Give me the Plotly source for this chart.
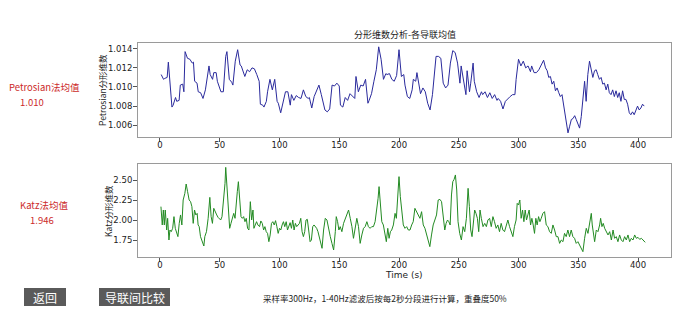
import plotly.graph_objects as go

# ---- Petrosian fractal dimension (mean over leads), time in seconds ----
petro_t = [1, 3, 4, 6, 7, 8, 10, 11, 13, 14, 16, 17, 19, 20, 21, 23, 25, 27, 28, 29,
           31, 32, 34, 36, 38, 41, 42, 44, 45, 47, 48, 51, 53, 55, 56, 58, 60, 61, 63, 65,
           67, 68, 70, 71, 73, 75, 77, 79, 81, 83, 84, 86, 87, 89, 90, 92, 94, 96, 98, 99,
           101, 103, 105, 107, 109, 110, 112, 114, 116, 118, 120, 122, 124, 125, 127, 129, 131, 133, 135, 137,
           138, 140, 142, 144, 146, 148, 150, 151, 153, 155, 157, 159, 161, 163, 164, 166, 168, 170, 172, 174,
           175, 177, 179, 181, 183, 185, 187, 189, 190, 192, 194, 196, 198, 200, 202, 204, 205, 207, 209, 211,
           212, 214, 215, 217, 218, 220, 222, 224, 226, 228, 230, 231, 233, 235, 237, 239, 241, 243, 245, 247,
           249, 251, 252, 254, 256, 257, 258, 259, 260, 262, 263, 265, 267, 269, 270, 272, 274, 276, 278, 280,
           282, 283, 285, 287, 289, 291, 293, 295, 297, 298, 300, 302, 304, 306, 308, 310, 311, 313, 315, 317,
           319, 321, 322.6, 324.0, 325.3, 326.7, 328.1, 329.5, 330.9, 332.3, 333.7, 335.0, 336.4, 337.8, 339.2,
           340.6, 341.4, 342.8, 344.2, 345.6, 347.0, 348.3, 349.7, 351.1, 352.5, 353.9, 355.3, 356.6, 358.0,
           359.4, 360.8, 362.2, 363.6, 365.0, 366.3, 367.7, 369.1, 370.5, 371.9, 373.3, 374.7, 376.0, 377.4,
           378.8, 380.2, 381.6, 383.0, 384.3, 385.7, 387.1, 388.5, 389.9, 391.3, 392.7, 394.0, 395.4, 396.8,
           398.2, 399.6, 401.0, 402.4, 403.8, 405.2]
petro_v = [1.0113, 1.0108, 1.0109, 1.0110, 1.0126, 1.0111, 1.0079, 1.0081, 1.0089, 1.0085,
           1.0086, 1.0102, 1.0103, 1.0095, 1.0137, 1.0130, 1.0129, 1.0125, 1.0126, 1.0106,
           1.0104, 1.0095, 1.0094, 1.0088, 1.0097, 1.0122, 1.0113, 1.0108, 1.0115, 1.0115,
           1.0106, 1.0095, 1.0095, 1.0132, 1.0137, 1.0108, 1.0105, 1.0102, 1.0127, 1.0139,
           1.0123, 1.0122, 1.0113, 1.0111, 1.0118, 1.0116, 1.0120, 1.0119, 1.0113, 1.0106,
           1.0082, 1.0081, 1.0079, 1.0085, 1.0095, 1.0108, 1.0097, 1.0108, 1.0085, 1.0083,
           1.0073, 1.0086, 1.0095, 1.0095, 1.0081, 1.0092, 1.0086, 1.0091, 1.0089, 1.0088,
           1.0097, 1.0090, 1.0088, 1.0089, 1.0078, 1.0090, 1.0097, 1.0102, 1.0092, 1.0082,
           1.0076, 1.0074, 1.0077, 1.0102, 1.0101, 1.0104, 1.0101, 1.0081, 1.0079, 1.0089,
           1.0086, 1.0093, 1.0090, 1.0088, 1.0111, 1.0095, 1.0102, 1.0101, 1.0108, 1.0083,
           1.0086, 1.0093, 1.0106, 1.0118, 1.0142, 1.0129, 1.0108, 1.0114, 1.0113, 1.0114,
           1.0108, 1.0106, 1.0112, 1.0139, 1.0111, 1.0113, 1.0102, 1.0090, 1.0088, 1.0097,
           1.0108, 1.0106, 1.0115, 1.0102, 1.0093, 1.0099, 1.0095, 1.0083, 1.0076, 1.0092,
           1.0120, 1.0132, 1.0132, 1.0130, 1.0104, 1.0099, 1.0102, 1.0125, 1.0138, 1.0136,
           1.0125, 1.0104, 1.0122, 1.0109, 1.0092, 1.0117, 1.0101, 1.0095, 1.0104, 1.0125,
           1.0106, 1.0095, 1.0089, 1.0095, 1.0092, 1.0095, 1.0089, 1.0094, 1.0088, 1.0092,
           1.0086, 1.0088, 1.0085, 1.0077, 1.0085, 1.0088, 1.0090, 1.0092, 1.0092, 1.0108,
           1.0129, 1.0122, 1.0127, 1.0120, 1.0122, 1.0116, 1.0122, 1.0115, 1.0115, 1.0118,
           1.0123, 1.0128, 1.0120, 1.0117, 1.0110, 1.0111, 1.0103, 1.0106, 1.0096, 1.0099,
           1.0094, 1.0090, 1.0092, 1.0082, 1.0071, 1.0060, 1.0052, 1.0059, 1.0066, 1.0067,
           1.0070, 1.0066, 1.0061, 1.0057, 1.0069, 1.0085, 1.0106, 1.0085, 1.0113, 1.0127,
           1.0117, 1.0110, 1.0117, 1.0118, 1.0113, 1.0108, 1.0110, 1.0103, 1.0104, 1.0097,
           1.0103, 1.0094, 1.0092, 1.0097, 1.0090, 1.0096, 1.0089, 1.0094, 1.0085, 1.0096,
           1.0087, 1.0087, 1.0082, 1.0073, 1.0071, 1.0074, 1.0071, 1.0075, 1.0080, 1.0076,
           1.0078, 1.0082, 1.0080]

# ---- Katz fractal dimension (mean over leads) ----
katz_t = [0.8, 1.9, 2.8, 3.6, 4.4, 5.6, 6.4, 7.5, 8.3, 9.4, 10.6, 11.7, 12.8, 13.9, 15.0, 16.1, 17.2, 18.3,
          19.4, 20.8, 21.9, 23.1, 24.4, 25.6, 26.7, 27.8, 28.9, 30.0, 31.1, 31.9, 32.8, 33.9, 35.0, 36.7,
          37.5, 38.9, 40.3, 41.7, 42.8, 43.9, 45.0, 46.4, 47.5, 48.6, 49.7, 50.8, 51.9, 53.3, 54.4, 55.0,
          56.1, 57.2, 58.3, 59.4, 60.6, 61.7, 62.8, 63.9, 64.7, 65.6, 66.7, 67.8, 68.9, 70.0, 71.1, 72.2,
          73.3, 74.4, 75.6, 76.7, 77.8, 78.6, 79.7, 80.8, 81.9, 83.3, 84.4, 85.6, 86.7, 87.8, 88.9, 90.0,
          91.1, 92.2, 93.3, 94.4, 95.6, 96.7, 97.8, 98.9, 100.0, 101.1, 102.2, 103.3, 104.4, 105.6, 106.7,
          107.8, 108.9, 110.0, 111.1, 112.2, 113.3, 114.4, 115.6, 116.7, 117.8, 118.9, 120.0, 121.1, 122.2,
          123.3, 124.4, 125.6, 126.7, 127.8, 128.9, 130.0, 131.1, 132.2, 133.3, 134.4,
          135.6, 136.9, 138.3, 139.7, 141.1, 142.5, 143.9, 145.3, 146.7, 147.5, 148.6, 149.7, 150.8, 152.2,
          153.6, 155.0, 156.4, 157.8, 159.2, 160.6, 161.9, 163.3, 164.7, 166.1, 167.5, 168.9, 170.3, 171.7,
          173.1, 174.4, 175.8, 177.2, 178.6, 180.0, 181.4, 182.5, 183.3, 184.4, 185.6, 186.9, 188.3, 189.4,
          190.6, 191.7, 192.8, 193.9, 195.3, 196.7, 197.8, 198.9, 200.0, 201.1, 202.2, 203.6, 205.0, 206.4,
          207.8, 209.2, 210.6, 211.9, 213.3, 214.7, 216.1, 217.5, 218.9, 220.3, 221.7, 223.1, 224.4, 225.8,
          227.2, 228.6, 230.0, 231.4, 232.8, 234.2, 235.6, 236.9, 238.3, 239.4, 240.6, 241.7, 242.8, 243.9,
          245.0, 246.1, 247.2, 248.3, 249.4, 250.8, 252.2, 253.6, 255.0, 256.4, 257.8, 258.9, 260.0, 261.1,
          262.2, 263.3, 264.4, 265.6, 266.7, 267.8, 268.9, 270.3, 271.7, 273.1, 274.4, 275.8, 277.2, 278.6,
          279.9, 281.3, 282.7, 284.1, 285.5, 286.9, 288.3, 289.7, 291.1, 292.5, 293.9, 295.3, 296.6, 298.0,
          298.9, 300.0, 301.1, 302.2, 303.4, 304.5, 305.6, 306.7, 307.8, 308.9, 310.1, 311.2, 312.3, 313.4,
          314.5, 315.6, 316.8, 317.9, 319.0, 320.4, 321.8, 323.2, 324.6, 326.0, 327.4, 328.8, 330.2, 331.6,
          333.0, 334.4, 335.8, 337.2, 338.5, 339.9, 341.3, 342.7, 344.1, 345.5, 346.9, 348.3, 349.7, 351.1,
          352.5, 353.9, 355.3, 356.7, 358.1, 359.5, 360.9, 361.7, 362.8, 363.7, 365.1, 366.5, 367.9, 368.7,
          369.8, 370.9, 372.1, 373.5, 374.9, 376.3, 377.7, 379.1, 380.4, 381.8, 383.2, 384.6, 386.0, 387.4,
          388.8, 390.2, 391.6, 393.0, 394.4, 395.8, 397.2, 398.6, 400.0, 401.4, 402.8, 404.2, 405.2, 406.0]
katz_v = [2.167, 1.938, 2.125, 1.938, 2.125, 1.875, 2.021, 1.750, 1.875, 1.854, 1.896, 2.042, 1.896, 1.833,
          1.792, 1.958, 2.063, 1.938, 2.250, 2.333, 2.450, 2.354, 2.250, 2.229, 2.167, 1.958, 2.125, 2.063,
          2.083, 1.938, 1.917, 1.792, 1.750, 1.675, 1.792, 1.854, 2.021, 2.283, 2.042, 1.958, 2.146, 2.083,
          2.063, 2.033, 2.021, 2.000, 2.042, 2.250, 2.458, 2.658, 2.417, 2.125, 1.896, 1.958, 2.042, 2.083,
          2.021, 2.167, 2.354, 2.479, 2.208, 2.042, 2.021, 2.042, 1.979, 2.021, 1.896, 1.875, 2.229, 2.000,
          2.125, 1.896, 1.938, 1.979, 1.938, 1.917, 1.988, 1.958, 1.875, 1.917, 1.854, 1.833, 1.729, 1.813,
          1.958, 1.979, 1.938, 1.992, 1.917, 1.833, 1.896, 1.875, 1.938, 1.979, 1.917, 1.979, 1.875, 1.938,
          1.967, 1.896, 2.000, 1.875, 1.958, 1.917, 1.938, 1.958, 2.021, 1.854, 1.792, 1.854, 2.000, 2.008,
          1.875, 1.729, 1.750, 1.917, 1.938, 1.917, 1.896, 1.854, 1.792, 1.708,
          1.646, 1.875, 2.021, 2.000, 1.875, 1.792, 1.708, 1.625, 1.854, 2.042, 1.979, 1.875, 1.917, 1.854,
          1.958, 2.021, 2.083, 2.125, 2.021, 1.917, 1.771, 1.875, 2.021, 1.917, 1.708, 1.813, 1.896, 1.917,
          1.979, 1.917, 1.896, 1.917, 1.917, 1.979, 2.125, 2.271, 2.417, 2.229, 1.979, 1.938, 1.792, 1.729,
          1.896, 1.771, 1.854, 1.875, 1.938, 2.083, 2.021, 2.271, 2.542, 2.292, 2.125, 1.938, 1.896, 1.917,
          1.875, 1.875, 1.938, 1.979, 2.146, 2.104, 2.083, 2.021, 2.104, 1.938, 1.896, 1.813, 1.729, 1.667,
          1.813, 1.938, 2.000, 2.063, 2.250, 2.258, 2.229, 2.021, 1.875, 1.958, 2.000, 1.979, 1.938, 2.313,
          2.479, 2.508, 2.563, 2.375, 1.979, 1.833, 1.750, 1.917, 1.854, 2.021, 2.396, 2.167, 1.875, 1.792,
          2.000, 2.125, 2.083, 2.021, 1.854, 2.125, 2.021, 1.917, 1.958, 1.917, 2.000, 2.021, 1.917, 2.042,
          1.979, 1.896, 1.938, 1.854, 1.958, 1.875, 1.854, 1.938, 2.000, 1.917, 1.854, 1.792, 1.917, 2.000,
          2.208, 2.188, 2.250, 2.021, 2.125, 1.979, 2.125, 2.000, 2.063, 2.125, 1.938, 2.021, 1.938, 1.833,
          2.021, 1.938, 2.042, 1.979, 2.021, 2.083, 2.104, 1.938, 1.917, 1.854, 1.833, 1.938, 1.875, 1.792,
          1.792, 1.708, 1.750, 1.729, 1.833, 1.792, 1.875, 1.792, 1.875, 1.792, 1.771, 1.708, 1.729, 1.688,
          1.646, 1.604, 1.771, 1.896, 1.833, 1.979, 2.083, 1.938, 1.833, 1.729, 1.875, 1.854, 1.938, 2.021,
          1.917, 1.958, 1.896, 1.854, 1.813, 1.854, 1.750, 1.875, 1.771, 1.792, 1.729, 1.813, 1.750, 1.729,
          1.792, 1.750, 1.813, 1.729, 1.771, 1.750, 1.813, 1.771, 1.783, 1.758, 1.771, 1.750, 1.729, 1.721]

x_ticks = [0, 50, 100, 150, 200, 250, 300, 350, 400]
petro_ticks = [1.006, 1.008, 1.010, 1.012, 1.014]
katz_ticks = [1.75, 2.00, 2.25, 2.50]

petro_mean_text = "1.010"
katz_mean_text = "1.946"

W, H = 700, 331


def px(x):
    return x / W


def py(y):
    return 1 - y / H


TICK_FONT = dict(family="DejaVu Sans, Noto Sans CJK SC", size=8.5, color="#222222")
CJK = "Noto Sans CJK SC, DejaVu Sans"
FRAME = "#9a9a9a"

fig = go.Figure()
fig.add_trace(go.Scatter(x=petro_t, y=petro_v, mode="lines",
                         line=dict(color="#2a2a9c", width=1), xaxis="x", yaxis="y",
                         showlegend=False, hoverinfo="skip"))
fig.add_trace(go.Scatter(x=katz_t, y=katz_v, mode="lines",
                         line=dict(color="#238b23", width=1), xaxis="x2", yaxis="y2",
                         showlegend=False, hoverinfo="skip"))

axis_common = dict(showgrid=False, zeroline=False, showline=True, mirror=True,
                   linecolor=FRAME, linewidth=1, ticks="outside", ticklen=4,
                   tickcolor="#555555", tickwidth=1, tickfont=TICK_FONT)

x_dom = [px(138), px(671)]
fig.update_layout(
    width=W, height=H, autosize=False,
    margin=dict(l=0, r=0, t=0, b=0),
    paper_bgcolor="white", plot_bgcolor="white",
    xaxis=dict(domain=x_dom, anchor="y", range=[-18.4, 427.6], tickvals=x_ticks,
               ticklabelstandoff=-4, **axis_common),
    yaxis=dict(domain=[py(137), py(43)], anchor="x", range=[1.00477, 1.0146],
               tickvals=petro_ticks, tickformat=".3f", ticklabelstandoff=-1, **axis_common),
    xaxis2=dict(domain=x_dom, anchor="y2", range=[-18.4, 427.6], tickvals=x_ticks,
                ticklabelstandoff=-4, **axis_common),
    yaxis2=dict(domain=[py(257), py(164)], anchor="x2", range=[1.5375, 2.70],
                tickvals=katz_ticks, tickformat=".2f", ticklabelstandoff=-1, **axis_common),
)

annotations = [
    dict(text="分形维数分析-各导联均值", x=px(405), y=py(34), font=dict(family=CJK, size=9, color="#222222")),
    dict(text="Petrosian分形维数", x=px(102), y=py(90), textangle=-90,
         font=dict(family=CJK, size=8.5, color="#222222")),
    dict(text="Katz分形维数", x=px(108), y=py(211), textangle=-90,
         font=dict(family=CJK, size=8.5, color="#222222")),
    dict(text="Time (s)", x=px(404), y=py(275), font=dict(family="DejaVu Sans", size=9, color="#222222")),
    dict(text="Petrosian法均值", x=px(45), y=py(87), font=dict(family=CJK, size=9.5, color="#cc2a2a")),
    dict(text=petro_mean_text, x=px(32), y=py(102), font=dict(family=CJK, size=9.5, color="#cc2a2a")),
    dict(text="Katz法均值", x=px(44), y=py(205), font=dict(family=CJK, size=9.5, color="#cc2a2a")),
    dict(text=katz_mean_text, x=px(42), y=py(220), font=dict(family=CJK, size=9.5, color="#cc2a2a")),
    dict(text="采样率300Hz，1-40Hz滤波后按每2秒分段进行计算，重叠度50%", x=px(385), y=py(297.5),
         font=dict(family=CJK, size=8.5, color="#222222")),
    dict(text="返回", x=px(45), y=py(297), font=dict(family=CJK, size=12, color="white")),
    dict(text="导联间比较", x=px(134.5), y=py(297), font=dict(family=CJK, size=12, color="white")),
]
for a in annotations:
    a.update(xref="paper", yref="paper", showarrow=False, xanchor="center", yanchor="middle")
fig.update_layout(annotations=annotations)

# button boxes
for x0, x1 in [(24, 66), (99, 170)]:
    fig.add_shape(type="rect", xref="paper", yref="paper",
                  x0=px(x0), x1=px(x1), y0=py(306), y1=py(288),
                  fillcolor="#5a5a5a", line=dict(width=0), layer="below")

fig.write_html("out.html")
